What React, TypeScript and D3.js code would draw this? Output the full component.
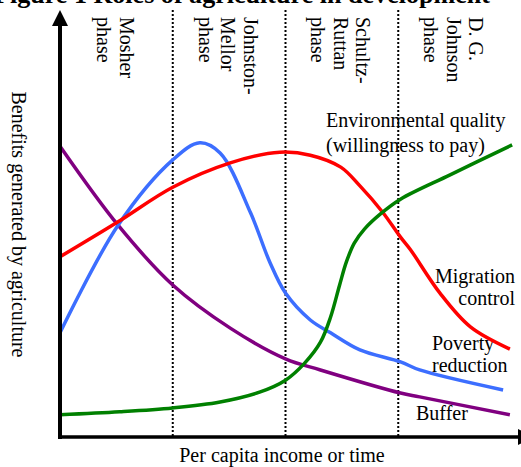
import React from "react";
import * as d3 from "d3";

const W = 521;
const H = 467;

const phaseLabels: string[][] = [
  ["Mosher", "phase"],
  ["Johnston-", "Mellor", "phase"],
  ["Schultz-", "Ruttan", "phase"],
  ["D. G.", "Johnson", "phase"],
];

// x in phase units (0..4), y in benefit units (0..100)
const bufferX = [0, 0.515, 1.0, 1.51, 2.0, 2.31, 3.02, 3.19, 3.99];
const bufferY = [68.1, 49.6, 35.6, 25.5, 18.3, 15.7, 10.3, 9.4, 5.2];

const povertyX = [0, 0.515, 1.0, 1.24, 1.42, 1.69, 1.86, 2.0, 2.22, 2.4, 2.66, 3.02, 3.19, 3.93];
const povertyY = [24.4, 49.6, 64.9, 68.9, 66.5, 52.5, 41.0, 33.7, 27.4, 24.4, 20.4, 17.6, 15.7, 11.0];

const migrationX = [0, 0.515, 1.0, 1.51, 1.95, 2.22, 2.49, 2.66, 2.86, 3.02, 3.11, 3.37, 3.64, 3.99];
const migrationY = [42.2, 50.4, 58.5, 64.2, 66.7, 66.0, 63.2, 58.8, 52.7, 46.8, 43.8, 33.7, 25.8, 20.6];

const envX = [0, 0.53, 1.0, 1.42, 1.77, 2.0, 2.17, 2.31, 2.4, 2.48, 2.54, 2.61, 2.7, 2.84, 3.02, 3.46, 4.01];
const envY = [5.2, 5.9, 6.8, 8.2, 10.5, 13.3, 17.3, 22.2, 28.1, 35.6, 41.0, 45.4, 48.7, 52.2, 55.7, 61.4, 68.4];

const seriesNames = ["Buffer", "Poverty reduction", "Migration control", "Environmental quality"];
const seriesColors = ["#800080", "#3c6eff", "#ff0000", "#008000"];

const FONT = "'Liberation Serif', 'Times New Roman', serif";

export default function App() {
  const x = d3.scaleLinear().domain([0, 4]).range([60, 511]);
  const y = d3.scaleLinear().domain([0, 100]).range([437, 10]);

  const line = d3
    .line<[number, number]>()
    .x((d) => x(d[0]))
    .y((d) => y(d[1]))
    .curve(d3.curveCatmullRom.alpha(0.5));

  const series: [number[], number[]][] = [
    [bufferX, bufferY],
    [povertyX, povertyY],
    [migrationX, migrationY],
    [envX, envY],
  ];

  const dividers = [1, 2, 3];
  const lineGap = 22.5;

  return (
    <svg
      width={W}
      height={H}
      style={{ position: "absolute", left: 0, top: 0, background: "#fff" }}
      fontFamily={FONT}
    >
      <text
        x={-6}
        y={3}
        fontSize={26}
        fontWeight="bold"
        textLength={496}
        lengthAdjust="spacingAndGlyphs"
      >
        Figure 1 Roles of agriculture in development
      </text>

      {/* phase labels */}
      {phaseLabels.map((lines, i) => {
        const c = (x(i) + x(i + 1)) / 2 - 8;
        const n = lines.length;
        return lines.map((t, k) => {
          const bx = c + ((n - 1) / 2) * lineGap - k * lineGap;
          return (
            <text
              key={`${i}-${k}`}
              transform={`translate(${bx},17) rotate(90)`}
              fontSize={20}
            >
              {t}
            </text>
          );
        });
      })}

      {/* annotations */}
      <text x={326} y={127} fontSize={20}>Environmental quality</text>
      <text x={326} y={152} fontSize={20}>(willingness to pay)</text>
      <text x={515} y={283} fontSize={20} textAnchor="end">Migration</text>
      <text x={515} y={305} fontSize={20} textAnchor="end">control</text>
      <text x={432} y={350} fontSize={20}>Poverty</text>
      <text x={432} y={372} fontSize={20}>reduction</text>
      <text x={416} y={420} fontSize={20}>Buffer</text>

      {/* dividers */}
      {dividers.map((d) => (
        <line
          key={d}
          x1={x(d)}
          x2={x(d)}
          y1={10}
          y2={y(0)}
          stroke="#000"
          strokeWidth={2}
          strokeDasharray="2,2"
        />
      ))}

      {/* curves */}
      {series.map(([xs, ys], i) => (
        <path
          key={seriesNames[i]}
          d={line(xs.map((v, j) => [v, ys[j]] as [number, number])) || ""}
          fill="none"
          stroke={seriesColors[i]}
          strokeWidth={3.5}
        />
      ))}

      {/* axes */}
      <line x1={60} x2={60} y1={y(0) + 2} y2={24} stroke="#000" strokeWidth={4} />
      <polygon points={`60,10 52,26 68,26`} fill="#000" />
      <line x1={58} x2={519} y1={y(0)} y2={y(0)} stroke="#000" strokeWidth={3.5} />
      <polygon points={`535,${y(0)} 518,${y(0) - 8} 518,${y(0) + 8}`} fill="#000" />

      {/* axis titles */}
      <text x={282} y={462} fontSize={20} textAnchor="middle">
        Per capita income or time
      </text>
      <text
        transform={`translate(12,224.5) rotate(90)`}
        fontSize={20}
        textAnchor="middle"
      >
        Benefits generated by agriculture
      </text>
    </svg>
  );
}
